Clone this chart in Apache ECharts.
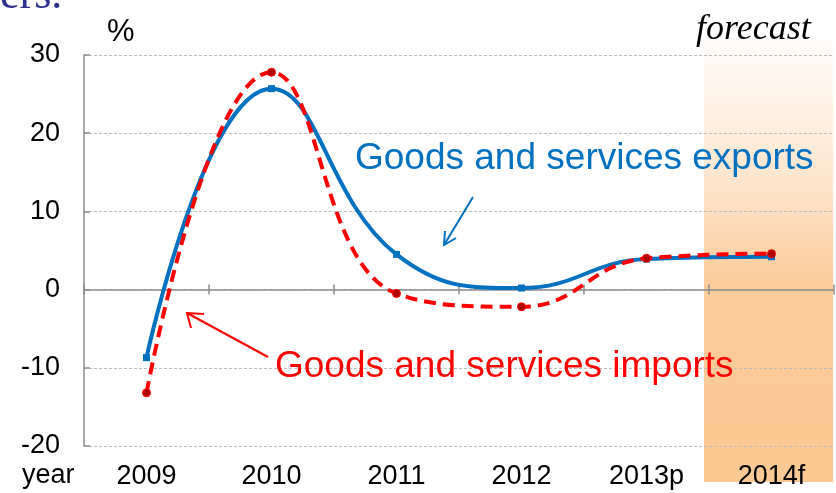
<!DOCTYPE html>
<html>
<head>
<meta charset="utf-8">
<script src="https://cdn.jsdelivr.net/npm/echarts@6/dist/echarts.min.js"></script>
<style>
  html, body { margin: 0; padding: 0; background: #fff; }
  #chart { width: 836px; height: 493px; }
</style>
</head>
<body>
<div id="chart"></div>
<script>
// data
const years = ['2009', '2010', '2011', '2012', '2013p', '2014f'];
const exportsGrowth = [-8.7, 25.7, 4.5, 0.2, 3.9, 4.2];
const importsGrowth = [-13.2, 27.8, -0.5, -2.2, 4.0, 4.6];
const yMin = -20, yMax = 30, yStep = 10;
const forecastYear = '2014f';

const FONT = 'Liberation Sans, Arial, sans-serif';
const GRID_TOP = 55, GRID_BOTTOM = 47, CHART_H = 493;

// distance from grid top to the zero line
const plotH = CHART_H - GRID_TOP - GRID_BOTTOM;
const zeroOffset = plotH * yMax / (yMax - yMin);

const chart = echarts.init(document.getElementById('chart'));

chart.setOption({
    backgroundColor: '#fff',
    animation: false,
    grid: { left: 84, right: 2, top: GRID_TOP, bottom: GRID_BOTTOM, outerBoundsMode: 'none', containLabel: false },
    xAxis: [
        {
            type: 'category',
            data: years,
            position: 'bottom',
            axisLine: { onZero: true, lineStyle: { color: '#8c8c8c', width: 1.5 } },
            axisTick: { show: true, length: 5, lineStyle: { color: '#8c8c8c', width: 1.5 } },
            axisLabel: { color: '#000', fontSize: 27, fontFamily: FONT, margin: 17 },
            splitLine: { show: false }
        },
        {
            // upper half of the ticks crossing the zero line
            type: 'category',
            data: years,
            position: 'top',
            offset: -zeroOffset,
            axisLine: { show: false, onZero: false },
            axisTick: { show: true, length: 5, lineStyle: { color: '#8c8c8c', width: 1.5 } },
            axisLabel: { show: false },
            splitLine: { show: false }
        }
    ],
    yAxis: {
        type: 'value',
        min: yMin,
        max: yMax,
        interval: yStep,
        axisLine: { show: true, lineStyle: { color: '#8c8c8c', width: 1.5 } },
        axisTick: { show: true, inside: true, length: 6, lineStyle: { color: '#8c8c8c', width: 1.5 } },
        axisLabel: { color: '#000', fontSize: 27, fontFamily: FONT, margin: 24 },
        splitLine: { show: true, lineStyle: { color: '#bdbdbd', type: [3, 2], width: 1 } }
    },
    series: [
        {
            name: 'Goods and services exports',
            type: 'line',
            data: exportsGrowth,
            smooth: 0.45,
            symbol: 'rect',
            symbolSize: 7,
            itemStyle: { color: '#0070c0' },
            lineStyle: { color: '#0070c0', width: 4 },
            z: 3
        },
        {
            name: 'Goods and services imports',
            type: 'line',
            data: importsGrowth,
            smooth: 0.45,
            symbol: 'circle',
            symbolSize: 8,
            itemStyle: { color: '#b00000', borderColor: '#ff0000', borderWidth: 1 },
            lineStyle: { color: '#ff0000', width: 4, type: [12, 7] },
            z: 4
        }
    ]
});

// forecast band: placed from the category scale
function drawExtras() {
    const idx = years.indexOf(forecastYear);
    const cx = chart.convertToPixel({ xAxisIndex: 0 }, idx);
    const step = chart.convertToPixel({ xAxisIndex: 0 }, 1) - chart.convertToPixel({ xAxisIndex: 0 }, 0);
    const yTop = chart.convertToPixel({ yAxisIndex: 0 }, yMax) - 17;
    const yBot = 482;
    const x0 = cx - step / 2 - 5;
    const x1 = Math.min(cx + step / 2 - 1, 833);

    chart.setOption({
        graphic: [
            {
                type: 'rect',
                z: -1,
                shape: { x: x0, y: yTop, width: x1 - x0, height: yBot - yTop },
                style: {
                    fill: new echarts.graphic.LinearGradient(0, 0, 0, 1, [
                        { offset: 0, color: '#fffdfb' },
                        { offset: 0.35, color: '#fde3c8' },
                        { offset: 0.55, color: '#fccc9b' },
                        { offset: 1, color: '#fcc893' }
                    ])
                },
                silent: true
            },
            {
                type: 'text', left: 0, top: -26, z: 10,
                style: { text: 'ers.', fill: '#2e3192', font: '44px "Liberation Serif", serif' }
            },
            {
                type: 'text', left: 107, top: 17, z: 10,
                style: { text: '%', fill: '#000', font: '31px ' + FONT }
            },
            {
                type: 'text', left: 22, top: 462, z: 10,
                style: { text: 'year', fill: '#000', font: '27px ' + FONT }
            },
            {
                type: 'text', left: 696, top: 12, z: 10,
                style: { text: 'forecast', fill: '#000', font: 'italic 36px "Liberation Serif", serif' }
            },
            {
                type: 'text', left: 355, top: 140, z: 10,
                style: { text: 'Goods and services exports', fill: '#0070c0', font: '37px ' + FONT }
            },
            {
                type: 'text', left: 275, top: 348, z: 10,
                style: { text: 'Goods and services imports', fill: '#ff0000', font: '37px ' + FONT }
            },
            // blue arrow
            {
                type: 'line', z: 10,
                shape: { x1: 473, y1: 197, x2: 444, y2: 245 },
                style: { stroke: '#0070c0', lineWidth: 2 }
            },
            {
                type: 'polyline', z: 10,
                shape: { points: [[445, 231], [444, 245], [456, 238]] },
                style: { stroke: '#0070c0', lineWidth: 2, fill: null }
            },
            // red arrow
            {
                type: 'line', z: 10,
                shape: { x1: 268, y1: 357, x2: 187, y2: 313 },
                style: { stroke: '#ff0000', lineWidth: 2 }
            },
            {
                type: 'polyline', z: 10,
                shape: { points: [[191, 328], [187, 313], [204, 314]] },
                style: { stroke: '#ff0000', lineWidth: 2, fill: null }
            }
        ]
    });
}
drawExtras();
</script>
</body>
</html>
